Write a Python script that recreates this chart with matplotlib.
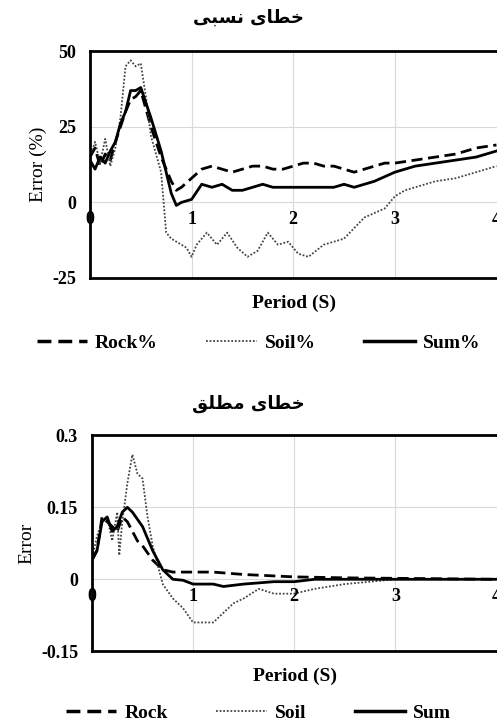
import matplotlib
matplotlib.use('Agg')
import matplotlib.pyplot as plt
from matplotlib.lines import Line2D

plt.rcParams['font.family'] = ['Liberation Serif', 'DejaVu Sans']

# relative error (%)
rock_pct_x = [0, 0.05, 0.1, 0.15, 0.2, 0.25, 0.3, 0.35, 0.4, 0.45, 0.5, 0.6, 0.7, 0.8, 0.85, 0.9, 1.0, 1.1,
              1.2, 1.3, 1.4, 1.5, 1.6, 1.7, 1.8, 1.9, 2.0, 2.1, 2.2, 2.3, 2.4, 2.5, 2.6, 2.7, 2.8, 2.9, 3.0,
              3.2, 3.4, 3.6, 3.8, 4.0]
rock_pct = [15, 18, 12, 16, 14, 20, 25, 30, 34, 35, 37, 25, 15, 7, 4, 5, 8, 11, 12, 11, 10, 11, 12, 12, 11,
            11, 12, 13, 13, 12, 12, 11, 10, 11, 12, 13, 13, 14, 15, 16, 18, 19]
sum_pct_x = [0, 0.05, 0.1, 0.15, 0.2, 0.25, 0.3, 0.35, 0.4, 0.45, 0.5, 0.6, 0.7, 0.75, 0.8, 0.85, 0.9, 1.0,
             1.1, 1.2, 1.3, 1.4, 1.5, 1.6, 1.7, 1.8, 1.9, 2.0, 2.2, 2.4, 2.5, 2.6, 2.8, 3.0, 3.2, 3.4, 3.6,
             3.8, 4.0]
sum_pct = [14, 11, 15, 13, 17, 20, 26, 30, 37, 37, 38, 28, 17, 10, 3, -1, 0, 1, 6, 5, 6, 4, 4, 5, 6, 5, 5,
           5, 5, 5, 6, 5, 7, 10, 12, 13, 14, 15, 17]
soil_pct_x = [0, 0.05, 0.1, 0.15, 0.2, 0.25, 0.3, 0.35, 0.4, 0.45, 0.5, 0.55, 0.6, 0.7, 0.75, 0.8, 0.9, 0.95,
              1.0, 1.05, 1.15, 1.25, 1.35, 1.45, 1.55, 1.65, 1.75, 1.85, 1.95, 2.05, 2.15, 2.3, 2.5, 2.7,
              2.9, 3.0, 3.1, 3.2, 3.4, 3.6, 3.8, 4.0]
soil_pct = [15, 20, 13, 21, 12, 18, 28, 45, 47, 45, 46, 35, 22, 10, -10, -12, -14, -15, -18, -14, -10, -14,
            -10, -15, -18, -16, -10, -14, -13, -17, -18, -14, -12, -5, -2, 2, 4, 5, 7, 8, 10, 12]

# absolute error
soil_abs_x = [0, 0.05, 0.1, 0.15, 0.2, 0.25, 0.27, 0.3, 0.35, 0.4, 0.45, 0.5, 0.55, 0.6, 0.65, 0.7, 0.8,
              0.9, 1.0, 1.1, 1.2, 1.3, 1.4, 1.5, 1.65, 1.8, 1.9, 2.0, 2.2, 2.5, 3.0, 4.0]
soil_abs = [0.04, 0.09, 0.12, 0.13, 0.08, 0.14, 0.05, 0.12, 0.20, 0.26, 0.22, 0.21, 0.13, 0.07, 0.03, -0.01,
            -0.04, -0.06, -0.09, -0.09, -0.09, -0.07, -0.05, -0.04, -0.02, -0.03, -0.03, -0.03, -0.02,
            -0.01, 0, 0]
rock_abs_x = [0, 0.05, 0.1, 0.15, 0.2, 0.25, 0.3, 0.35, 0.4, 0.45, 0.5, 0.6, 0.7, 0.8, 1.0, 1.2, 1.5, 2.0,
              2.5, 3.0, 4.0]
rock_abs = [0.04, 0.06, 0.13, 0.12, 0.11, 0.10, 0.13, 0.12, 0.10, 0.08, 0.07, 0.04, 0.02, 0.015, 0.015,
            0.015, 0.01, 0.005, 0.003, 0.002, 0]
sum_abs_x = [0, 0.05, 0.1, 0.15, 0.2, 0.25, 0.3, 0.35, 0.4, 0.5, 0.6, 0.7, 0.8, 0.9, 1.0, 1.2, 1.3, 1.5,
             1.8, 2.0, 2.2, 3.0, 4.0]
sum_abs = [0.04, 0.06, 0.12, 0.13, 0.10, 0.11, 0.14, 0.15, 0.14, 0.11, 0.06, 0.02, 0.0, -0.002, -0.01,
           -0.01, -0.015, -0.01, -0.005, -0.005, 0.0, 0, 0]

title_rel = '\uFBFD\uFE92\uFEB4\uFEE7 \uFBFC\uFE8E\uFEC4\uFEA7'   # خطای نسبی
title_abs = '\uFED6\uFEE0\uFEC4\uFEE3 \uFBFC\uFE8E\uFEC4\uFEA7'   # خطای مطلق


def style_axes(ax, yticks, ylabels, ylim, ylabel):
    ax.set_xlim(0, 4.02)
    ax.set_ylim(*ylim)
    ax.set_yticks(yticks)
    ax.set_yticklabels(ylabels, fontsize=13, fontweight='bold')
    ax.set_xticks([1, 2, 3])
    ax.set_xticklabels([])
    ax.tick_params(length=0, pad=10)
    ax.grid(True, color='#d9d9d9', linewidth=0.8)
    ax.set_axisbelow(True)
    for s in ax.spines.values():
        s.set_linewidth(2)
    ax.set_ylabel(ylabel, fontsize=14)
    ax.set_xlabel('Period (S)', fontsize=14, fontweight='bold', labelpad=2)
    off = (ylim[1] - ylim[0]) * 0.04
    for v in [0, 1, 2, 3, 4]:
        ax.text(v, -off, str(v), ha='center', va='top', fontsize=13, fontweight='bold', clip_on=False)


fig = plt.figure(figsize=(4.97, 7.22), dpi=100)
ax1 = fig.add_axes([0.181, 0.615, 0.822, 0.314])
ax2 = fig.add_axes([0.185, 0.098, 0.818, 0.299])

ax1.plot(rock_pct_x, rock_pct, color='black', linestyle=(0, (4, 2)), linewidth=2)
ax1.plot(soil_pct_x, soil_pct, color='#444444', linestyle=(0, (1, 1)), linewidth=1.3)
ax1.plot(sum_pct_x, sum_pct, color='black', linewidth=2)
style_axes(ax1, [-25, 0, 25, 50], ['-25', '0', '25', '50'], (-25, 50), 'Error (%)')
fig.text(0.5, 0.975, title_rel, ha='center', va='center', fontsize=13, fontweight='bold', family='DejaVu Sans')

ax2.plot(rock_abs_x, rock_abs, color='black', linestyle=(0, (4, 2)), linewidth=2)
ax2.plot(soil_abs_x, soil_abs, color='#444444', linestyle=(0, (1, 1)), linewidth=1.3)
ax2.plot(sum_abs_x, sum_abs, color='black', linewidth=2)
style_axes(ax2, [-0.15, 0, 0.15, 0.3], ['-0.15', '0', '0.15', '0.3'], (-0.15, 0.3), 'Error')
fig.text(0.5, 0.44, title_abs, ha='center', va='center', fontsize=13, fontweight='bold', family='DejaVu Sans')


def legend(y, names):
    handles = [Line2D([], [], color='black', linestyle=(0, (4, 2)), linewidth=2.5),
               Line2D([], [], color='#444444', linestyle=(0, (1, 1)), linewidth=1.3),
               Line2D([], [], color='black', linewidth=2.5)]
    fig.legend(handles, names, loc='center', bbox_to_anchor=(0.52, y), ncol=3, frameon=False,
               prop={'size': 14, 'weight': 'bold', 'family': 'Liberation Serif'},
               handlelength=2.6, columnspacing=2.5, handletextpad=0.4)


legend(0.525, ['Rock%', 'Soil%', 'Sum%'])
legend(0.012, ['Rock', 'Soil', 'Sum'])

fig.savefig('out.png', dpi=100)
